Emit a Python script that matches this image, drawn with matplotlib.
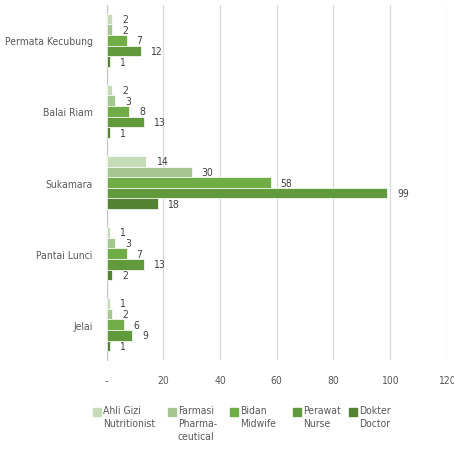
import matplotlib

matplotlib.use("Agg")
import matplotlib.pyplot as plt
import numpy as np
from matplotlib.patches import Rectangle

plt.rcParams["font.family"] = ["DejaVu Sans"]
plt.rcParams["font.stretch"] = "condensed"

# data
districts = ["Permata Kecubung", "Balai Riam", "Sukamara", "Pantai Lunci", "Jelai"]
ahli_gizi = [2, 2, 14, 1, 1]
farmasi = [2, 3, 30, 3, 2]
bidan = [7, 8, 58, 7, 6]
perawat = [12, 13, 99, 13, 9]
dokter = [1, 1, 18, 2, 1]

series_labels = ["Ahli Gizi\nNutritionist", "Farmasi\nPharma-\nceutical",
                 "Bidan\nMidwife", "Perawat\nNurse", "Dokter\nDoctor"]
x_ticks = [0, 20, 40, 60, 80, 100, 120]
x_ticklabels = ["-", "20", "40", "60", "80", "100", "120"]

COLORS = ["#c6dbb8", "#a6c791", "#70ad47", "#619a3d", "#548235"]
TXT = "#595959"
FS = 7.5

fig = plt.figure(figsize=(4.54, 4.52), dpi=100)
ax = fig.add_axes([0.235, 0.201, 0.749, 0.786])

series = [ahli_gizi, farmasi, bidan, perawat, dokter]
bw = 0.15
y = np.arange(len(districts))
for i, vals in enumerate(series):
    pos = y - 2 * bw + i * bw
    bars = ax.barh(pos, vals, height=bw, color=COLORS[i], edgecolor="white",
                   linewidth=0.5, zorder=3)
    ax.bar_label(bars, labels=[str(v) for v in vals], padding=7,
                 fontsize=FS, color="#404040")

ax.set_ylim(len(districts) - 0.5, -0.5)
ax.set_xlim(0, 120)
ax.set_yticks(y)
ax.set_yticklabels(districts)
ax.set_xticks(x_ticks)
ax.set_xticklabels(x_ticklabels)
ax.tick_params(axis="both", length=0, labelsize=FS, labelcolor=TXT)
ax.tick_params(axis="x", pad=11)
ax.tick_params(axis="y", pad=10)
ax.grid(axis="x", color="#d9d9d9", lw=0.9, zorder=0)
for s in ["top", "right", "bottom"]:
    ax.spines[s].set_visible(False)
ax.spines["left"].set_color("#c8c8c8")
ax.spines["left"].set_linewidth(0.9)

# legend drawn by hand so squares line up with the first text line
leg_x = [93, 168, 230, 293, 349]
sq = 8
for xi, lab, col in zip(leg_x, series_labels, COLORS):
    fig.patches.append(Rectangle((xi / 454, 1 - (413 + sq / 2) / 452), sq / 454, sq / 452,
                                 transform=fig.transFigure, color=col, figure=fig))
    fig.text((xi + 10) / 454, 1 - 406 / 452, lab, ha="left", va="top",
             fontsize=FS, color=TXT, linespacing=1.35)

fig.savefig("out.png", dpi=100)
